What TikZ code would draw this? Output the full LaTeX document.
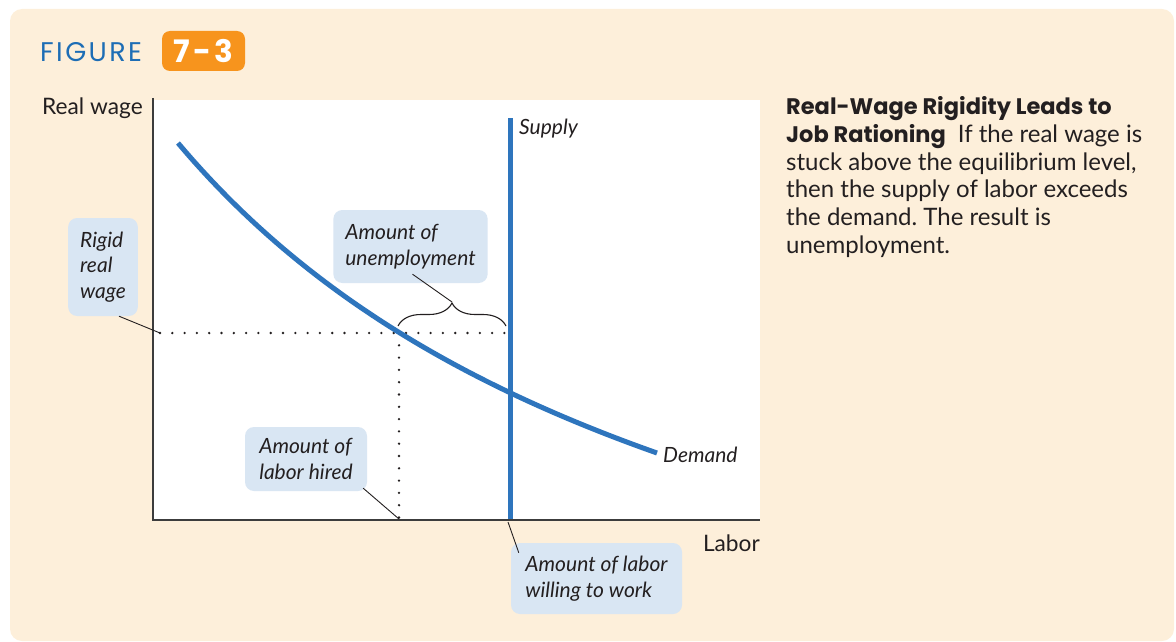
\documentclass[tikz,border=0pt]{standalone}
\usepackage{fontspec}
\setmainfont{Lato}
\newfontfamily\figfont[LetterSpace=9]{Poppins}
\newfontfamily\numfont[LetterSpace=10]{Poppins}
\newfontfamily\headfont{Poppins}
\usetikzlibrary{decorations.pathreplacing,calc}
\frenchspacing
\definecolor{bgbeige}{HTML}{FDEFDA}
\definecolor{lblblue}{HTML}{D9E6F3}
\definecolor{curveblue}{HTML}{2E75BD}
\definecolor{figblue}{HTML}{1D6DB5}
\definecolor{figorange}{HTML}{F7941D}
\definecolor{ink}{HTML}{231F20}
\definecolor{axisgray}{HTML}{3C3C3C}
\begin{document}
\begin{tikzpicture}[x=1pt,y=-1pt,
  lbl/.style={fill=lblblue, rounded corners=9, inner xsep=12, inner ysep=0, align=left, text=ink,
    font=\fontsize{21}{25.5}\selectfont\itshape},
  curvetxt/.style={inner sep=0, text=ink, font=\fontsize{21}{25}\selectfont\itshape},
  axtxt/.style={inner sep=0, text=ink, font=\fontsize{22.7}{25}\selectfont},
  econline/.style={curveblue, line width=5},
  axisline/.style={axisgray, line width=1.5},
  dotline/.style={ink, line width=2.6, line cap=round, dash pattern=on 0pt off 12.3pt},
  leader/.style={ink, line width=0.9}]
\useasboundingbox (0,0) rectangle (1176,642);
\fill[bgbeige, rounded corners=12] (10,9) rectangle (1174,641);
% title
\node[anchor=base west, inner sep=0, text=figblue, font=\figfont\fontsize{27}{30}\selectfont] (fig) at (40,62) {FIGURE};
\node[fill=figorange, rounded corners=8, minimum width=83, minimum height=40, inner sep=0,
  text=white, font=\numfont\bfseries\fontsize{31}{34}\selectfont] (num) at (203.5,51) {7-3};
% plot area
\fill[white] (153,100) rectangle (760,520);
\coordinate (O) at (153,520);
\coordinate (ytop) at (153,98);
\coordinate (xend) at (760,520);
% dotted guides
\coordinate (rw) at (160,333);
\coordinate (hirex) at (399,333);
\coordinate (supx) at (505,333);
\coordinate (hirebot) at (399,519);
\draw[dotline] (rw) -- (supx);
\draw[dotline] (hirex) -- (hirebot);
% demand curve
\draw[econline] plot[domain=178:657, samples=60] (\x, {825.1 - 3922/((\x+397)/100)});
% supply line
\coordinate (stop) at (510,118);
\coordinate (sbot) at (510,520);
\draw[econline] (stop) -- (sbot);
% axes
\draw[axisline] (ytop) -- (O) -- (xend);
% brace
\coordinate (bl) at (398,326);
\coordinate (br) at (506,326);
\coordinate (btip) at (452,302);
\draw[ink, line width=1.1, decorate, decoration={brace, amplitude=23}] (bl) -- (br);
% curve labels
\node[curvetxt, anchor=base west] (supply) at (519,134) {Supply};
\node[curvetxt, anchor=base west] (demand) at (663,462) {Demand};
\node[axtxt, anchor=base east] (labor) at (760,551) {Labor};
\node[axtxt, anchor=base west] (realwage) at (42,114) {Real wage};
% label boxes
\node[lbl, minimum width=68, minimum height=98] (rigid) at (103,267) {Rigid\\real\\wage};
\node[lbl, minimum width=153, minimum height=73] (unemp) at (410.5,246.5) {Amount of\\unemployment};
\node[lbl, minimum width=122, minimum height=64] (hired) at (306,459) {Amount of\\labor hired};
\node[lbl, minimum width=171, minimum height=71] (willing) at (596.5,578.5) {Amount of labor\\willing to work};
% leaders
\draw[leader] (rigid.south) ++(16,0) -- (rw);
\draw[leader] ([shift={(2,-9)}]unemp.south) -- (btip);
\draw[leader] ([shift={(-4,-3)}]hired.south east) -- (hirebot);
\coordinate (sax) at (508,522);
\draw[leader] (sax) -- ([shift={(8,10)}]willing.north west);
% caption
\node[anchor=north west, inner sep=0, align=left, text=ink, font=\fontsize{24}{27.9}\selectfont] (cap) at (786,96)
  {{\headfont\bfseries\fontsize{22.5}{27.9}\selectfont Real-Wage Rigidity Leads to}\\
   {\headfont\bfseries\fontsize{22.5}{27.9}\selectfont Job Rationing}\enspace If the real wage is\\
   stuck above the equilibrium level,\\
   then the supply of labor exceeds\\
   the demand. The result is\\
   unemployment.};
\end{tikzpicture}
\end{document}
